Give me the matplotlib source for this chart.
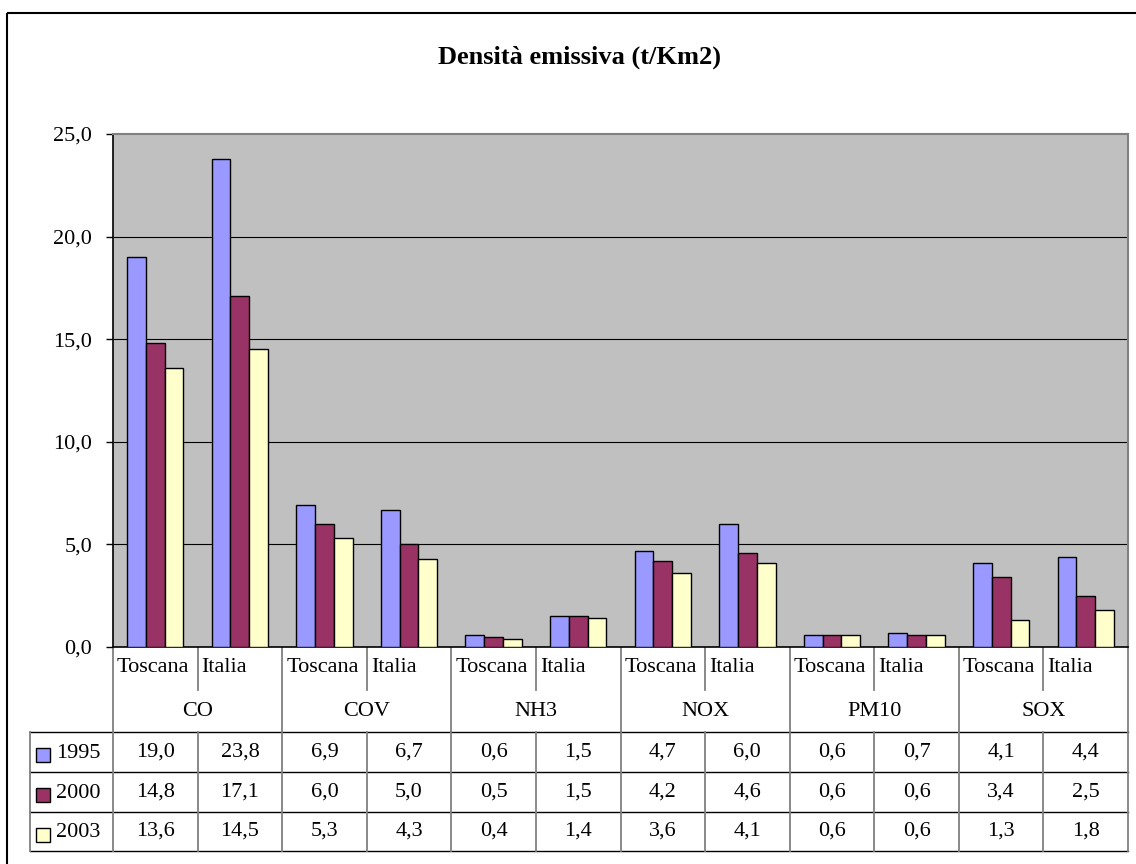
import matplotlib
matplotlib.use("Agg")
import matplotlib.pyplot as plt
from matplotlib.patches import Rectangle

plt.rcParams['font.family'] = ['Liberation Serif', 'DejaVu Serif']

# Emission density (t/Km2) by pollutant and area
pollutants = ["CO", "COV", "NH3", "NOX", "PM10", "SOX"]
areas = ["Toscana", "Italia"]
years = ["1995", "2000", "2003"]
v1995 = [19.0, 23.8, 6.9, 6.7, 0.6, 1.5, 4.7, 6.0, 0.6, 0.7, 4.1, 4.4]
v2000 = [14.8, 17.1, 6.0, 5.0, 0.5, 1.5, 4.2, 4.6, 0.6, 0.6, 3.4, 2.5]
v2003 = [13.6, 14.5, 5.3, 4.3, 0.4, 1.4, 3.6, 4.1, 0.6, 0.6, 1.3, 1.8]
series = [v1995, v2000, v2003]
colors = ["#9999FF", "#993366", "#FFFFCC"]
yticks = [0, 5, 10, 15, 20, 25]

FS = 16

W, H = 1136, 864
fig = plt.figure(figsize=(W / 100, H / 100), dpi=100)
fig.patch.set_facecolor("white")

# pixel-space overlay for the chart frame and the data table
ov = fig.add_axes([0, 0, 1, 1])
ov.set_xlim(0, W)
ov.set_ylim(H, 0)
ov.axis("off")

# plot area geometry (pixels)
px0, px1 = 113, 1128
py_top, py_bot = 134, 647

ax = fig.add_axes([px0 / W, (H - py_bot) / H, (px1 - px0) / W, (py_bot - py_top) / H])
ax.set_facecolor("#C0C0C0")
n = len(v1995)
ax.set_xlim(0, n)
ax.set_ylim(0, 25)

bw = 1 / 4.5
for k, (vals, col) in enumerate(zip(series, colors)):
    xs = [i + 0.5 + (k - 1) * bw for i in range(n)]
    ax.bar(xs, vals, width=bw, color=col, edgecolor="black", linewidth=1.0, zorder=3)

for y in yticks[1:-1]:
    ax.axhline(y, color="black", linewidth=0.8, zorder=1)

ax.set_yticks(yticks)
ax.set_yticklabels([f"{t:.1f}".replace(".", ",") for t in yticks], fontsize=FS)
ax.tick_params(axis="y", direction="out", length=5, width=1, pad=10, colors="black")
ax.set_xticks([])
for s in ["top", "right"]:
    ax.spines[s].set_color("#808080")
    ax.spines[s].set_linewidth(1.5)
ax.spines["left"].set_color("black")
ax.spines["left"].set_linewidth(1.2)
ax.spines["bottom"].set_color("black")
ax.spines["bottom"].set_linewidth(1.2)

# title
ov.text(580, 57, "Densità emissiva (t/Km2)", ha="center", va="center",
        fontsize=19, fontweight="bold")

# chart frame (right and bottom edges fall outside the image)
ov.add_patch(Rectangle((7, 13), 1160, 900, fill=False, edgecolor="black", linewidth=1.5))

# data table
slot = (px1 - px0) / n
tab_left = 30
y_head, y_sub, y_grp = 648, 690, 732
row_lines = [732, 772, 812, 851]
vcol = "#808080"

# header: sub-category and group labels
for i in range(n):
    x = px0 + i * slot
    ov.text(x + 4, 667, areas[i % 2], ha="left", va="center", fontsize=FS)
for g, name in enumerate(pollutants):
    xc = px0 + (2 * g + 1) * slot
    ov.text(xc, 711, name, ha="center", va="center", fontsize=FS)
    # separator between the two areas
    ov.plot([xc, xc], [y_head, y_sub], color=vcol, lw=1.3)
for g in range(len(pollutants) + 1):
    x = px0 + 2 * g * slot
    ov.plot([x, x], [y_head, y_grp], color=vcol, lw=1.3)

# body rows
for yl in row_lines:
    ov.plot([tab_left, px1], [yl, yl], color="black", lw=1.0)
for i in range(n + 1):
    x = px0 + i * slot
    ov.plot([x, x], [row_lines[0], row_lines[-1]], color=vcol, lw=1.3)
ov.plot([tab_left, tab_left], [row_lines[0], row_lines[-1]], color=vcol, lw=1.3)

for r, (vals, col, yr) in enumerate(zip(series, colors, years)):
    yc = (row_lines[r] + row_lines[r + 1]) / 2
    ov.add_patch(Rectangle((36, yc - 4), 14, 14, facecolor=col, edgecolor="black", lw=1.0))
    ov.text(56, yc + 1, yr, ha="left", va="center", fontsize=FS)
    for i, v in enumerate(vals):
        ov.text(px0 + (i + 0.5) * slot, yc, f"{v:.1f}".replace(".", ","),
                ha="center", va="center", fontsize=FS)

fig.savefig("out.png", dpi=100)
